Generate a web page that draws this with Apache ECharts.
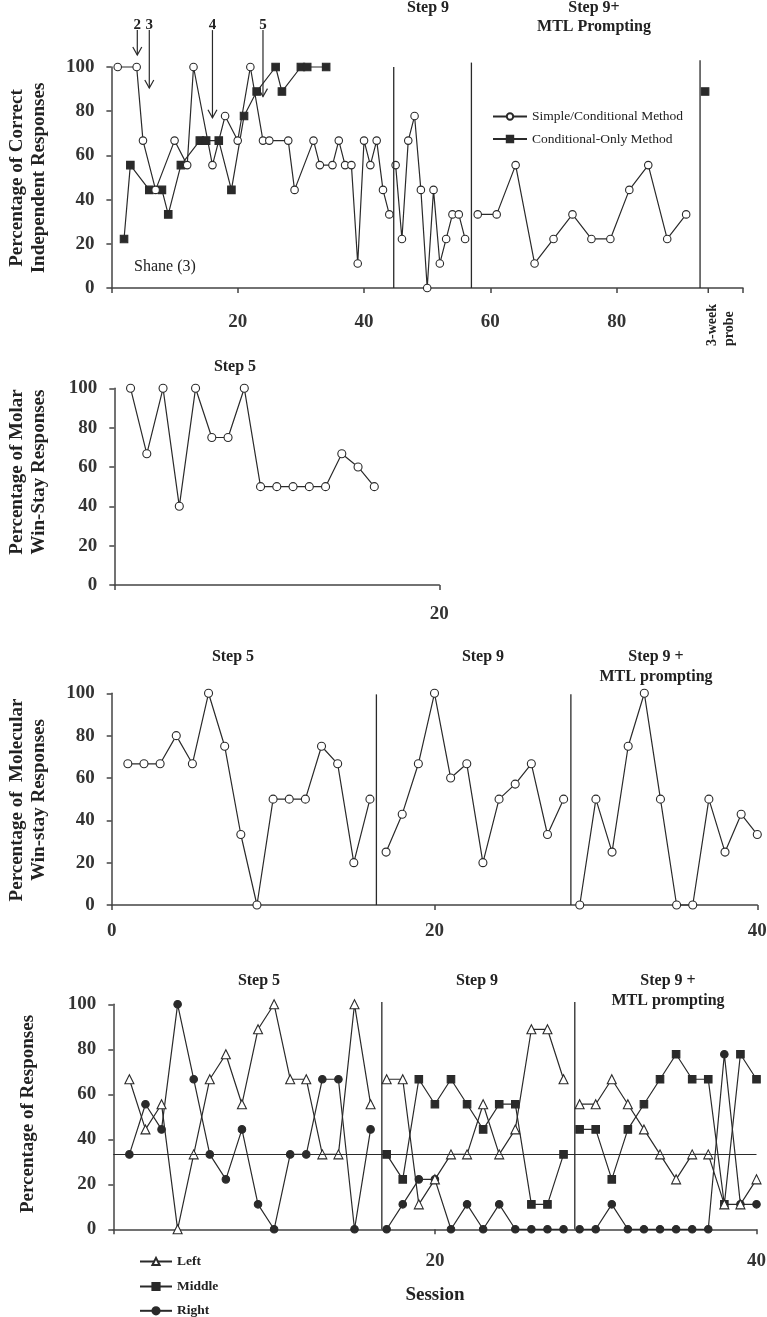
<!DOCTYPE html>
<html><head><meta charset="utf-8">
<script src="https://cdn.jsdelivr.net/npm/echarts@6/dist/echarts.min.js"></script>
<style>html,body{margin:0;padding:0;background:#fff}#c{width:767px;height:1317px}</style>
</head><body><div id="c"></div>
<script>
// ---------- Panel 1: correct independent responses ----------
const p1SimpleSessions = [1,4,5,7,10,12,13,16,18,20,22,24,25,28,29,32,33,35,36,37,38,39,40,41,42,43,44,45,46,47,48,49,50,51,52,53,54,55,56,58,61,64,67,70,73,76,79,82,85,88,91];
const p1SimpleValues = [100,100,66.7,44.4,66.7,55.6,100,55.6,77.8,66.7,100,66.7,66.7,66.7,44.4,66.7,55.6,55.6,66.7,55.6,55.6,11.1,66.7,55.6,66.7,44.4,33.3,55.6,22.2,66.7,77.8,44.4,0,44.4,11.1,22.2,33.3,33.3,22.2,33.3,33.3,55.6,11.1,22.2,33.3,22.2,22.2,44.4,55.6,22.2,33.3];
const p1CondSessions = [2,3,6,8,9,11,14,15,17,19,21,23,26,27,30,31,34,94];
const p1CondValues = [22.2,55.6,44.4,44.4,33.3,55.6,66.7,66.7,66.7,44.4,77.8,88.9,100,88.9,100,100,100,88.9];
const p1PhaseLines = [44.7, 57, 93.2];
const p1PhaseTops = [100, 102, 103];
const p1ArrowLabels = ['2','3','4','5'];
const p1ArrowSessions = [4.1, 6, 16, 24];
const p1ArrowTips = [105.4, 90.5, 77, 86.6];
const p1XTicks = [20, 40, 60, 80];

// ---------- Panel 2: molar win-stay ----------
const p2Sessions = [1,2,3,4,5,6,7,8,9,10,11,12,13,14,15,16];
const p2Values = [100,66.7,100,40,100,75,75,100,50,50,50,50,50,66.7,60,50];

// ---------- Panel 3: molecular win-stay ----------
const p3Sessions = Array.from({length:40}, (_, i) => i + 1);
const p3Values = [66.7,66.7,66.7,80,66.7,100,75,33.3,0,50,50,50,75,66.7,20,50,
  25,42.9,66.7,100,60,66.7,20,50,57.1,66.7,33.3,50,
  0,50,25,75,100,50,0,0,50,25,42.9,33.3];
const p3PhaseLines = [16.4, 28.45];

// ---------- Panel 4: left / middle / right ----------
const p4Sessions = Array.from({length:40}, (_, i) => i + 1);
const p4Left = [66.7,44.4,55.6,0,33.3,66.7,77.8,55.6,88.9,100,66.7,66.7,33.3,33.3,100,55.6,
  66.7,66.7,11.1,22.2,33.3,33.3,55.6,33.3,44.4,88.9,88.9,66.7,
  55.6,55.6,66.7,55.6,44.4,33.3,22.2,33.3,33.3,11.1,11.1,22.2];
const p4MiddleSessions = Array.from({length:24}, (_, i) => i + 17);
const p4Middle = [33.3,22.2,66.7,55.6,66.7,55.6,44.4,55.6,55.6,11.1,11.1,33.3,
  44.4,44.4,22.2,44.4,55.6,66.7,77.8,66.7,66.7,11.1,77.8,66.7];
const p4Right = [33.3,55.6,44.4,100,66.7,33.3,22.2,44.4,11.1,0,33.3,33.3,66.7,66.7,0,44.4,
  0,11.1,22.2,22.2,0,11.1,0,11.1,0,0,0,0,
  0,0,11.1,0,0,0,0,0,0,77.8,11.1,11.1];
const p4PhaseLines = [16.7, 28.7];
const p4Chance = 33.3;

// ---------- helpers ----------
const SERIF = 'Liberation Serif';
const INK = '#2a2a2a';
const AXIS = '#444';

function segs(sessions, values, bounds) {
  const edges = [-Infinity, ...bounds, Infinity];
  const out = [];
  for (let i = 0; i < edges.length - 1; i++) {
    const d = [];
    sessions.forEach((s, k) => { if (s > edges[i] && s < edges[i + 1]) d.push([s, values[k]]); });
    if (d.length) out.push(d);
  }
  return out;
}
function mkSeries(name, idx, sessions, values, bounds, sym, size, filled, z) {
  return segs(sessions, values, bounds).map(d => ({
    type: 'line', name, xAxisIndex: idx, yAxisIndex: idx, data: d,
    symbol: sym, symbolSize: size, showAllSymbol: true, clip: false,
    itemStyle: { color: filled ? INK : '#fff', borderColor: INK, borderWidth: 1.1, opacity: 1 },
    lineStyle: { color: INK, width: 1.2 },
    emphasis: { disabled: true }, z: z || 2, animation: false
  }));
}
const tickLabel = { fontFamily: SERIF, fontWeight: 'bold', fontSize: 19, color: '#333' };
function xAxis(idx, max, fmt, margin) {
  return { type: 'value', gridIndex: idx, min: 0, max, interval: 20,
    axisLine: { show: true, onZero: false, lineStyle: { color: AXIS, width: 1.5 } },
    axisTick: { show: true, length: 5, lineStyle: { color: AXIS, width: 1.5 } },
    splitLine: { show: false },
    axisLabel: Object.assign({ margin, formatter: fmt, showMinLabel: true, showMaxLabel: true }, tickLabel) };
}
function yAxis(idx) {
  return { type: 'value', gridIndex: idx, min: 0, max: 100, interval: 20,
    axisLine: { show: true, onZero: false, lineStyle: { color: AXIS, width: 1.5 } },
    axisTick: { show: true, length: 5, lineStyle: { color: AXIS, width: 1.5 } },
    splitLine: { show: false },
    axisLabel: Object.assign({ margin: 17 }, tickLabel) };
}

const series = [].concat(
  mkSeries('Conditional-Only Method', 0, p1CondSessions, p1CondValues, p1PhaseLines, 'rect', 7.5, true, 2),
  mkSeries('Simple/Conditional Method', 0, p1SimpleSessions, p1SimpleValues, p1PhaseLines, 'circle', 7.5, false, 3),
  mkSeries('Molar', 1, p2Sessions, p2Values, [], 'circle', 8, false, 3),
  mkSeries('Molecular', 2, p3Sessions, p3Values, p3PhaseLines, 'circle', 8, false, 3),
  mkSeries('Left', 3, p4Sessions, p4Left, p4PhaseLines, 'triangle', 9, false, 4),
  mkSeries('Middle', 3, p4MiddleSessions, p4Middle, p4PhaseLines, 'rect', 7.5, true, 3),
  mkSeries('Right', 3, p4Sessions, p4Right, p4PhaseLines, 'circle', 7.5, true, 3)
);
// chance line on panel 4
series.push({ type: 'line', xAxisIndex: 3, yAxisIndex: 3, data: [], silent: true,
  markLine: { silent: true, symbol: 'none', label: { show: false },
    lineStyle: { color: INK, width: 1.2, type: 'solid' }, data: [{ yAxis: p4Chance }] }, animation: false });

const legendText = { fontFamily: SERIF, fontSize: 13.5, color: '#222' };
const legendBold = { fontFamily: SERIF, fontSize: 13.5, fontWeight: 'bold', color: '#222' };
const option = {
  backgroundColor: '#fff',
  animation: false,
  grid: [
    { left: 111.4, top: 67, width: 631.6, height: 221, outerBoundsMode: 'none', containLabel: false },
    { left: 114.3, top: 388.3, width: 325, height: 196.7, outerBoundsMode: 'none', containLabel: false },
    { left: 111.7, top: 693.3, width: 645.6, height: 211.7, outerBoundsMode: 'none', containLabel: false },
    { left: 113.3, top: 1004.3, width: 643.2, height: 225, outerBoundsMode: 'none', containLabel: false }
  ],
  xAxis: [
    xAxis(0, 100, v => (p1XTicks.indexOf(v) >= 0 ? String(v) : ''), 25),
    xAxis(1, 20, v => (v === 20 ? '20' : ''), 20),
    xAxis(2, 40, v => String(v), 17),
    xAxis(3, 40, v => (v === 0 ? '' : String(v)), 22)
  ],
  yAxis: [yAxis(0), yAxis(1), yAxis(2), yAxis(3)],
  legend: [
    { data: ['Simple/Conditional Method', 'Conditional-Only Method'], orient: 'vertical', padding: 0,
      left: 492, top: 109.5, itemWidth: 34, itemHeight: 8, itemGap: 8.5, selectedMode: false, textStyle: legendText },
    { data: ['Left'], padding: 0, left: 139, top: 1254.5, itemWidth: 32, itemHeight: 9, selectedMode: false, textStyle: legendBold },
    { data: ['Middle'], padding: 0, left: 139, top: 1279.5, itemWidth: 32, itemHeight: 9, selectedMode: false, textStyle: legendBold },
    { data: ['Right'], padding: 0, left: 139, top: 1303.8, itemWidth: 32, itemHeight: 9, selectedMode: false, textStyle: legendBold }
  ],
  series
};

const chart = echarts.init(document.getElementById('c'), null, { renderer: 'canvas', width: 767, height: 1317 });
chart.setOption(option);

const px = (g, x, y) => chart.convertToPixel({ xAxisIndex: g, yAxisIndex: g }, [x, y]);
const G = [];
function vline(g, x, top) {
  const a = px(g, x, 0), b = px(g, x, top);
  G.push({ type: 'line', shape: { x1: a[0], y1: a[1], x2: b[0], y2: b[1] }, style: { stroke: INK, lineWidth: 1.3 }, z: 10 });
}
function txt(text, x, y, size, bold, lh) {
  G.push({ type: 'text', x, y, z: 10,
    style: { text, fill: '#222', font: (bold ? 'bold ' : '') + size + 'px "' + SERIF + '"',
      align: 'center', verticalAlign: 'middle', lineHeight: lh || (size + 3) } });
}
p1PhaseLines.forEach((x, i) => vline(0, x, p1PhaseTops[i]));
p3PhaseLines.forEach(x => vline(2, x, 99.5));
p4PhaseLines.forEach(x => vline(3, x, 101));

// arrows
p1ArrowSessions.forEach((s, i) => {
  const top = px(0, s, 116.7), tip = px(0, s, p1ArrowTips[i]), lab = px(0, s, 119);
  G.push({ type: 'line', shape: { x1: top[0], y1: top[1], x2: tip[0], y2: tip[1] }, style: { stroke: INK, lineWidth: 1.2 }, z: 10 });
  G.push({ type: 'polyline', shape: { points: [[tip[0] - 4.5, tip[1] - 8], [tip[0], tip[1]], [tip[0] + 4.5, tip[1] - 8]] }, style: { stroke: INK, lineWidth: 1.2, fill: null }, z: 10 });
  txt(p1ArrowLabels[i], lab[0], 25, 15, true);
});
// probe tick + label
const probeTick = px(0, 94.5, 0);
G.push({ type: 'line', shape: { x1: probeTick[0], y1: probeTick[1], x2: probeTick[0], y2: probeTick[1] + 5 }, style: { stroke: AXIS, lineWidth: 1.5 }, z: 10 });
G.push({ type: 'text', x: probeTick[0] + 13, y: 346, rotation: Math.PI / 2, z: 10,
  style: { text: '3-week\nprobe', fill: '#222', font: 'bold 14px "' + SERIF + '"', align: 'left', verticalAlign: 'middle', lineHeight: 17 } });

// headers
txt('Step 9', 428, 8, 16, true);
txt('Step 9+\nMTL Prompting', 594, 17, 16, true, 19);
txt('Shane (3)', 165, 267, 16, false);
txt('Step 5', 235, 367, 16, true);
txt('Step 5', 233, 657, 16, true);
txt('Step 9', 483, 657, 16, true);
txt('Step 9 +\nMTL prompting', 656, 667, 16, true, 20);
txt('Step 5', 259, 981, 16, true);
txt('Step 9', 477, 981, 16, true);
txt('Step 9 +\nMTL prompting', 668, 991, 16, true, 20);
txt('Session', 435, 1295, 19, true);

// y titles
const yTitles = [
  ['Percentage of Correct\nIndependent Responses', 28, 178],
  ['Percentage of Molar\nWin-Stay Responses', 28, 472],
  ['Percentage of  Molecular\nWin-stay Responses', 28, 800],
  ['Percentage of Responses', 28, 1114]
];
yTitles.forEach(t => G.push({ type: 'text', x: t[1], y: t[2], rotation: Math.PI / 2, z: 10,
  style: { text: t[0], fill: '#222', font: 'bold 19px "' + SERIF + '"', align: 'center', verticalAlign: 'middle', lineHeight: 22 } }));

chart.setOption({ graphic: G });
</script>
</body></html>
